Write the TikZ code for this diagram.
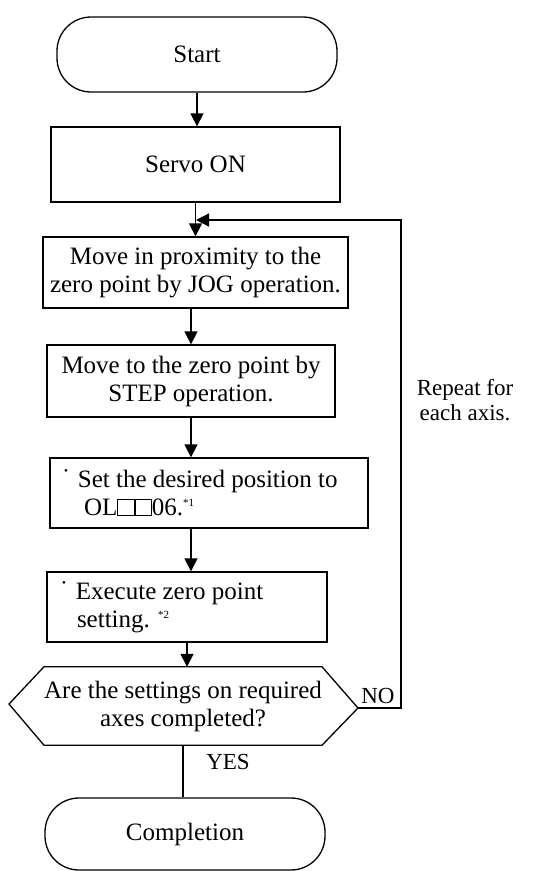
\documentclass[tikz,border=0pt]{standalone}
\usepackage{fontspec}
\setmainfont{Liberation Serif}
\usetikzlibrary{arrows.meta,calc}
\newcommand{\sqbox}{{\fboxsep=0pt\fboxrule=0.9pt\fbox{\rule{0pt}{0.62em}\hspace{0.62em}}}}
\newcommand{\bul}{\raisebox{0.5em}{\fontsize{11}{11}\selectfont\textbullet}\hspace{0.4em}}
\begin{document}
\begin{tikzpicture}[x=1pt,y=-1pt,
  every node/.style={font=\fontsize{25}{28}\selectfont},
  line/.style={line width=1.3pt},
  arr/.style={line, -{Triangle[length=13pt,width=13pt]}},
  term/.style={line, draw, rounded corners=34pt, inner sep=0pt},
  proc/.style={line, draw, inner sep=0pt, align=center},
  procl/.style={line, draw, inner ysep=0pt, align=flush left},
  lbl/.style={font=\fontsize{23}{25}\selectfont, inner sep=1pt}]
\useasboundingbox (0,0) rectangle (552,871);
\node[term, minimum width=280pt, minimum height=75pt] (start) at (197,54.5) {Start};
\node[proc, minimum width=289pt, minimum height=75pt] (servo) at (195.5,164.5) {Servo ON};
\node[proc, minimum width=305pt, minimum height=71pt] (jog) at (195.5,272.5) {Move in proximity to the\\zero point by JOG operation.};
\node[proc, minimum width=288pt, minimum height=72pt] (stp) at (191,381) {Move to the zero point by\\STEP operation.};
\node[procl, minimum height=70pt, text width=290pt, inner xsep=14pt] (set) at (209,493) {\bul Set the desired position to\\\hspace*{0.8em}OL\sqbox\sqbox 06.\textsuperscript{\fontsize{11}{11}\selectfont *1}};
\node[procl, minimum height=70pt, text width=250pt, inner xsep=15pt] (exe) at (187,607) {\bul Execute zero point\\\hspace*{0.6em}setting. \textsuperscript{\fontsize{11}{11}\selectfont *2}};
\node[inner sep=0pt, minimum width=260pt, minimum height=78pt, align=center] (dec) at (183,706) {Are the settings on required\\axes completed?};
\coordinate (dr) at (358,708);
\coordinate (dl) at (9,704);
\draw[line] (dec.north west) -- (dec.north east) -- (dr) -- (dec.south east) -- (dec.south west) -- (dl) -- cycle;
\node[term, minimum width=280pt, minimum height=72pt] (comp) at (185,834) {Completion};
\draw[arr] (start.south) -- (start.south |- servo.north);
\coordinate (join) at (196,220);
\draw[arr] (servo.south) -- (servo.south |- jog.north);
\draw[arr] (jog.south -| stp.north) -- (stp.north);
\draw[arr] (stp.south) -- (stp.south |- set.north);
\draw[arr] (set.south -| stp.south) -- (stp.south |- exe.north);
\draw[arr] (exe.south) -- (exe.south |- dec.north);
\draw[line] (dec.south) -- (dec.south |- comp.north);
\coordinate (rc) at (401,708);
\draw[arr] (dr) -- (rc) |- (join);
\node[lbl, anchor=south] (no) at (378,705) {NO};
\node[lbl] (yes) at (228,762) {YES};
\node[lbl, align=center] (rep) at (465,400) {Repeat for\\each axis.};
\end{tikzpicture}
\end{document}
